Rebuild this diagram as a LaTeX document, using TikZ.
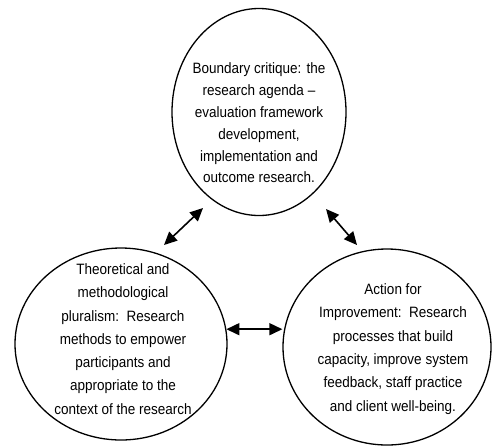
\documentclass[tikz,border=0pt]{standalone}
\usepackage{fontspec}
\setmainfont{Liberation Sans}
\newfontfamily\labelfont[FakeStretch=0.9,Ligatures=TeX]{Liberation Sans}
\usetikzlibrary{shapes.geometric,arrows.meta}

\begin{document}
\begin{tikzpicture}[x=1pt,y=-1pt,
  ring/.style={draw=black, line width=1.3pt, ellipse, inner sep=0pt},
  label/.style={align=center, inner sep=0pt, font=\labelfont\fontsize{15}{#1}\selectfont},
  twoway/.style={line width=1.6pt, {Triangle[length=13pt,width=12pt]}-{Triangle[length=13pt,width=12pt]}}
]
  \fill[white] (0,0) rectangle (492,445);
  \useasboundingbox (0,0) rectangle (492,445);

  % the three circles
  \node[ring, minimum width=174pt, minimum height=207pt] (top)   at (259,112) {};
  \node[ring, minimum width=212pt, minimum height=192pt] (left)  at (121,344) {};
  \node[ring, minimum width=208pt, minimum height=196pt] (right) at (387,347) {};

  % texts inside the circles
  \node[label=21.8pt] (toptext) at (259,123) {Boundary critique: the\\
    research agenda --\\
    evaluation framework\\
    development,\\
    implementation and\\
    outcome research.};
  \node[label=23.3pt] (lefttext) at (123,339) {Theoretical and\\
    methodological\\
    pluralism:\ \ Research\\
    methods to empower\\
    participants and\\
    appropriate to the\\
    context of the research};
  \node[label=23.3pt] (righttext) at (393,349) {Action for\\
    Improvement:\ \ Research\\
    processes that build\\
    capacity, improve system\\
    feedback, staff practice\\
    and client well-being.};

  % two-way links between the circles
  \coordinate (tlA) at (203,208);
  \coordinate (tlB) at (164,245);
  \coordinate (trA) at (326,209);
  \coordinate (trB) at (357,245);
  \draw[twoway] (tlA) -- (tlB);
  \draw[twoway] (trA) -- (trB);
  \draw[twoway] (left.8.6) -- (left.8.6 -| right.west);
\end{tikzpicture}
\end{document}
